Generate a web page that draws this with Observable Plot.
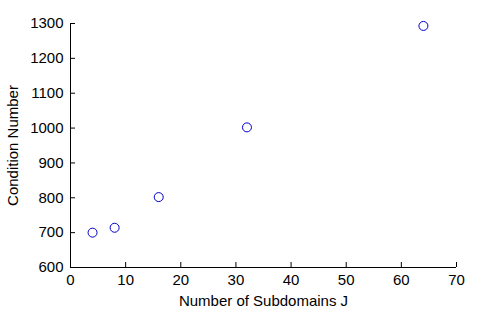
<!DOCTYPE html>
<html><head><meta charset="utf-8">
<script src="https://cdn.jsdelivr.net/npm/d3@7"></script>
<script src="https://cdn.jsdelivr.net/npm/@observablehq/plot@0.6"></script>
<style>body{margin:0;background:#fff}</style>
</head><body><div id="chart"></div>
<script>
const subdomains = [4, 8, 16, 32, 64];
const conditionNumber = [700, 714, 802, 1002, 1293];
const xTicks = [0, 10, 20, 30, 40, 50, 60, 70];
const yTicks = [600, 700, 800, 900, 1000, 1100, 1200, 1300];
const data = subdomains.map((j, i) => ({j, c: conditionNumber[i]}));

const chart = Plot.plot({
  width: 504, height: 312,
  marginLeft: 70, marginRight: 48, marginTop: 23, marginBottom: 45,
  style: {fontFamily: "Arial, 'Liberation Sans', sans-serif", fontSize: "15px", color: "#000", background: "#fff"},
  x: {domain: [0, 70]},
  y: {domain: [600, 1300]},
  marks: [
    Plot.ruleY([600], {stroke: "#000"}),
    Plot.ruleX([0], {stroke: "#000"}),
    Plot.axisX(xTicks, {tickSize: -5, tickPadding: 12, tickFormat: d => String(d), label: "Number of Subdomains J", labelAnchor: "center", labelOffset: 38, labelArrow: "none", fontSize: 15, strokeOpacity: 1}),
    Plot.axisY(yTicks, {tickSize: -5, tickPadding: 12, tickFormat: d => String(d), label: "Condition Number", labelAnchor: "center", labelOffset: 63, labelArrow: "none", fontSize: 15, strokeOpacity: 1}),
    Plot.dot(data, {x: "j", y: "c", r: 4.5, stroke: "#0000cc", strokeWidth: 1, fill: "none"})
  ]
});
document.getElementById("chart").appendChild(chart);
</script></body></html>
